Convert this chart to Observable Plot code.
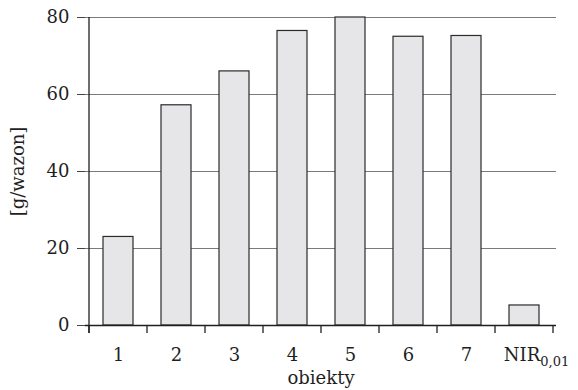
<!DOCTYPE html>
<html>
<head>
<meta charset="utf-8">
<script src="https://cdn.jsdelivr.net/npm/d3@7"></script>
<script src="https://cdn.jsdelivr.net/npm/@observablehq/plot@0.6"></script>
<style>
  body { margin: 0; background: #fff; }
</style>
</head>
<body>
<div id="chart"></div>
<script>
// Categories on the horizontal axis; "_" marks the subscript part of a label
const objects = ["1", "2", "3", "4", "5", "6", "7", "NIR_0,01"];
// Yield per pot [g/wazon]
const yieldPerPot = [23, 57.2, 66, 76.5, 80, 75, 75.2, 5.2];
// Value axis ticks and gridlines
const yTicks = [0, 20, 40, 60, 80];
const gridValues = [20, 40, 60, 80];

const data = objects.map((obiekt, i) => ({obiekt, value: yieldPerPot[i]}));

// Short tick marks at the boundaries between categories, plus the vertical axis line
function boundaryTicks(index, scales) {
  const {x, y} = scales;
  const step = x.step();
  const half = x.bandwidth() / 2;
  const y0 = y(0);
  const g = d3.create("svg:g").attr("stroke", "#1f1f1f").attr("stroke-width", 1.3);
  const xs = objects.map(o => x(o) + half - step / 2);
  xs.push(x(objects[objects.length - 1]) + half + step / 2);
  for (const xi of xs) {
    g.append("line").attr("x1", xi).attr("x2", xi).attr("y1", y0).attr("y2", y0 + 8);
  }
  g.append("line")
    .attr("x1", xs[0]).attr("x2", xs[0])
    .attr("y1", y(d3.max(yTicks))).attr("y2", y0 + 8);
  return g.node();
}

const plot = Plot.plot({
  width: 578,
  height: 390,
  marginLeft: 85,
  marginRight: 22,
  marginTop: 17,
  marginBottom: 65,
  style: {fontFamily: "DejaVu Serif", fontSize: "18px", color: "#1f1f1f", background: "#fff"},
  x: {domain: objects, paddingInner: 0.49, paddingOuter: 0.245},
  y: {domain: [0, 80]},
  marks: [
    Plot.ruleY(gridValues, {stroke: "#7a7a7a", strokeWidth: 1.2}),
    Plot.barY(data, {x: "obiekt", y: "value", fill: "#e6e6e8", stroke: "#2b2b2b", strokeWidth: 1.2}),
    Plot.ruleY([0], {stroke: "#1f1f1f", strokeWidth: 1.4}),
    boundaryTicks,
    Plot.axisY({
      ticks: yTicks, tickSize: 8, tickPadding: 8, stroke: "#444", fontSize: 18,
      label: "[g/wazon]", labelAnchor: "center", labelArrow: false, labelOffset: 74
    }),
    Plot.axisX({
      tickSize: 0, tickPadding: 23, tickFormat: d => d, fontSize: 18,
      label: "obiekty", labelAnchor: "center", labelArrow: false, labelOffset: 58
    })
  ]
});

// Render "NIR_0,01" with a real subscript
d3.select(plot).selectAll("text").each(function () {
  const t = d3.select(this);
  const s = t.text();
  if (s.includes("_") && this.children.length === 0) {
    const [main, sub] = s.split("_");
    t.text(null).attr("x", 12);
    t.append("tspan").text(main);
    t.append("tspan").attr("font-size", "13px").attr("dy", "5").text(sub);
  }
});

document.getElementById("chart").append(plot);
</script>
</body>
</html>
